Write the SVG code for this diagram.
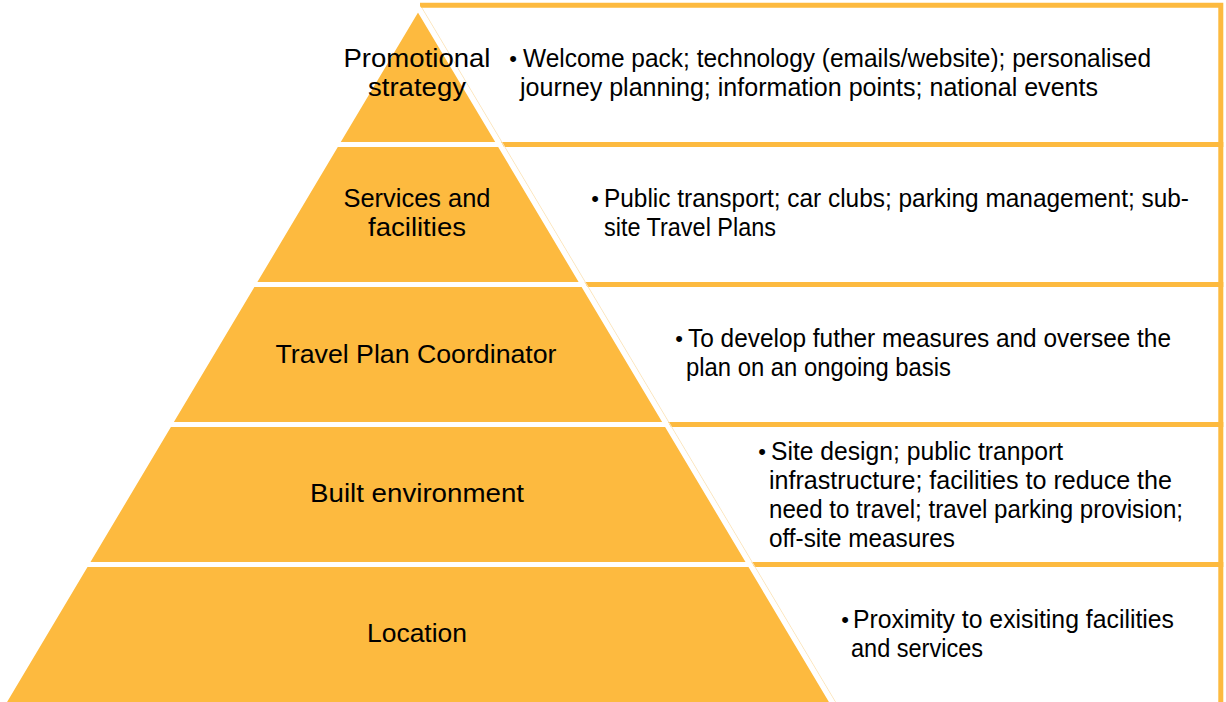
<svg xmlns="http://www.w3.org/2000/svg" width="1226" height="702" viewBox="0 0 1226 702">
  <style>
    .layer { fill: #FDBA3F; stroke: #FFFFFF; stroke-width: 5; stroke-linejoin: round; }
    .box { fill: none; stroke: #FDBA3F; stroke-width: 5; stroke-linejoin: miter; }
    .edge { fill: none; stroke: #FCE6BE; stroke-width: 1; }
    .lbl { font-family: "Liberation Sans", Arial, sans-serif; font-size: 25px; fill: #000000; text-anchor: middle; }
    .txt { font-family: "Liberation Sans", Arial, sans-serif; font-size: 25px; fill: #000000; }
    .bul { font-family: "Liberation Sans", Arial, sans-serif; font-size: 22px; fill: #000000; text-anchor: middle; }
  </style>
  <rect x="0" y="0" width="1226" height="702" fill="#FFFFFF"/>

  <g id="box-promotional">
    <path class="box" d="M420 5.3 H1220.8 V144.5 H499.6"/>
    <text class="bul" x="513" y="66">•</text>
    <text class="txt" x="523" y="67" textLength="628" lengthAdjust="spacingAndGlyphs">Welcome pack; technology (emails/website); personalised</text>
    <text class="txt" x="520" y="96" textLength="578" lengthAdjust="spacingAndGlyphs">journey planning; information points; national events</text>
  </g>
  <g id="box-services">
    <path class="box" d="M499.6 144.5 H1220.8 V284.5 H583"/>
    <text class="bul" x="595" y="206">•</text>
    <text class="txt" x="604" y="207" textLength="585" lengthAdjust="spacingAndGlyphs">Public transport; car clubs; parking management; sub-</text>
    <text class="txt" x="604" y="236" textLength="172" lengthAdjust="spacingAndGlyphs">site Travel Plans</text>
  </g>
  <g id="box-coordinator">
    <path class="box" d="M583 284.5 H1220.8 V424.5 H666.5"/>
    <text class="bul" x="679" y="346">•</text>
    <text class="txt" x="688" y="347" textLength="483" lengthAdjust="spacingAndGlyphs">To develop futher measures and oversee the</text>
    <text class="txt" x="686" y="376" textLength="265" lengthAdjust="spacingAndGlyphs">plan on an ongoing basis</text>
  </g>
  <g id="box-built">
    <path class="box" d="M666.5 424.5 H1220.8 V564.5 H749.9"/>
    <text class="bul" x="762" y="459">•</text>
    <text class="txt" x="771" y="460" textLength="292" lengthAdjust="spacingAndGlyphs">Site design; public tranport</text>
    <text class="txt" x="769" y="489" textLength="403" lengthAdjust="spacingAndGlyphs">infrastructure; facilities to reduce the</text>
    <text class="txt" x="769" y="518" textLength="414" lengthAdjust="spacingAndGlyphs">need to travel; travel parking provision;</text>
    <text class="txt" x="769" y="547" textLength="186" lengthAdjust="spacingAndGlyphs">off-site measures</text>
  </g>
  <g id="box-location">
    <path class="box" d="M749.9 564.5 H1220.8 V712"/>
    <text class="bul" x="845" y="627">•</text>
    <text class="txt" x="853" y="628" textLength="321" lengthAdjust="spacingAndGlyphs">Proximity to exisiting facilities</text>
    <text class="txt" x="851" y="657" textLength="132" lengthAdjust="spacingAndGlyphs">and services</text>
  </g>

  <line class="edge" x1="422" y1="8" x2="838.5" y2="707"/>

  <g id="layer-promotional">
    <polygon class="layer" points="418,7.6 499.6,144.5 336.4,144.5"/>
    <text class="lbl" x="417" y="67" textLength="147" lengthAdjust="spacingAndGlyphs">Promotional</text>
    <text class="lbl" x="417" y="96" textLength="98" lengthAdjust="spacingAndGlyphs">strategy</text>
  </g>
  <g id="layer-services">
    <polygon class="layer" points="336.4,144.5 499.6,144.5 583,284.5 253,284.5"/>
    <text class="lbl" x="417" y="207" textLength="147" lengthAdjust="spacingAndGlyphs">Services and</text>
    <text class="lbl" x="417" y="236" textLength="98" lengthAdjust="spacingAndGlyphs">facilities</text>
  </g>
  <g id="layer-coordinator">
    <polygon class="layer" points="253,284.5 583,284.5 666.5,424.5 169.5,424.5"/>
    <text class="lbl" x="416" y="363" textLength="281" lengthAdjust="spacingAndGlyphs">Travel Plan Coordinator</text>
  </g>
  <g id="layer-built">
    <polygon class="layer" points="169.5,424.5 666.5,424.5 749.9,564.5 86.1,564.5"/>
    <text class="lbl" x="417" y="502" textLength="214" lengthAdjust="spacingAndGlyphs">Built environment</text>
  </g>
  <g id="layer-location">
    <polygon class="layer" points="86.1,564.5 749.9,564.5 837.8,712 -1.8,712"/>
    <text class="lbl" x="417" y="642" textLength="100" lengthAdjust="spacingAndGlyphs">Location</text>
  </g>
</svg>
